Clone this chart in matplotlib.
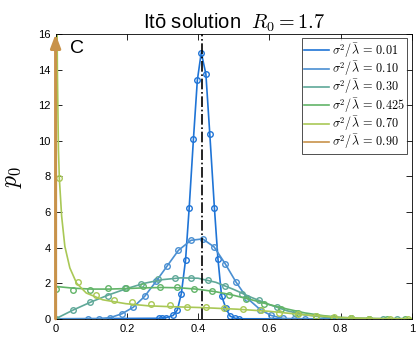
import numpy as np
import matplotlib
matplotlib.use('Agg')
import matplotlib.pyplot as plt

plt.rcParams['font.family'] = ['Liberation Sans', 'DejaVu Sans']
plt.rcParams['mathtext.fontset'] = 'cm'

R0 = 1.7
labels = ['0.01', '0.10', '0.30', '0.425', '0.70', '0.90']
colors = ['#1f74d6', '#4a8fd2', '#5fa898', '#62b468', '#a9c856', '#c8924a']

# sigma^2/lambda = 0.01 (line through points)
x01 = [0.29, 0.30, 0.31, 0.33, 0.342, 0.353, 0.365, 0.375, 0.387, 0.398, 0.409,
       0.422, 0.433, 0.446, 0.456, 0.466, 0.478, 0.49, 0.504, 0.515]
y01 = [0.03, 0.05, 0.06, 0.19, 0.5, 1.41, 3.32, 6.2, 10.08, 13.4, 14.96,
       13.75, 10.38, 6.21, 3.34, 1.3, 0.6, 0.15, 0.03, 0.0]

# 0.10
x10 = [0.09, 0.123, 0.154, 0.186, 0.218, 0.25, 0.282, 0.313, 0.345, 0.38, 0.413,
       0.445, 0.476, 0.507, 0.538, 0.575, 0.605, 0.638, 0.67, 0.70, 0.76]
y10 = [0.0, 0.0, 0.07, 0.28, 0.65, 1.26, 2.1, 2.96, 3.85, 4.41, 4.49,
       4.04, 3.1, 2.05, 1.16, 0.51, 0.19, 0.02, 0.0, 0.0, 0.0]

# 0.30 theory and simulation
xt30 = [0, 0.05, 0.1, 0.15, 0.2, 0.25, 0.3, 0.35, 0.4, 0.45, 0.5, 0.55, 0.6,
        0.65, 0.7, 0.75, 0.8, 0.85, 0.9, 1.0]
yt30 = [0, 0.5, 0.95, 1.35, 1.7, 2.0, 2.2, 2.3, 2.28, 2.05, 1.65, 1.2, 0.8,
        0.45, 0.22, 0.1, 0.04, 0.01, 0, 0]
xs30 = [0, 0.049, 0.097, 0.146, 0.195, 0.241, 0.287, 0.335, 0.381, 0.429, 0.477,
        0.524, 0.572, 0.621, 0.673, 0.73, 0.78, 0.83, 0.88, 0.92, 0.96]
ys30 = [0, 0.51, 0.94, 1.3, 1.73, 1.95, 2.24, 2.29, 2.29, 2.16, 1.86,
        1.41, 1.03, 0.64, 0.32, 0.12, 0.05, 0.02, 0, 0, 0]

# 0.425
xt425 = [0, 0.05, 0.1, 0.15, 0.2, 0.25, 0.3, 0.35, 0.4, 0.45, 0.5, 0.55, 0.6,
         0.65, 0.7, 0.75, 0.8, 0.85, 0.9, 1.0]
yt425 = [1.82, 1.72, 1.67, 1.67, 1.7, 1.74, 1.76, 1.74, 1.66, 1.52, 1.32, 1.07,
         0.8, 0.55, 0.33, 0.18, 0.08, 0.03, 0.01, 0]
xs425 = [0.0, 0.05, 0.097, 0.148, 0.198, 0.245, 0.294, 0.342, 0.39, 0.439, 0.487,
         0.536, 0.584, 0.633, 0.682, 0.73, 0.78, 0.83, 0.88, 0.93, 0.98]
ys425 = [1.67, 1.6, 1.63, 1.73, 1.73, 1.82, 1.76, 1.78, 1.67, 1.54, 1.35,
         1.11, 0.85, 0.55, 0.3, 0.15, 0.06, 0.02, 0, 0, 0]

# 0.70
xt70 = [0.003, 0.005, 0.008, 0.0105, 0.017, 0.026, 0.04, 0.059, 0.086, 0.132,
        0.197, 0.26, 0.31, 0.41, 0.51, 0.6, 0.7, 0.8, 0.9, 1.0]
yt70 = [20, 14, 9.5, 7.9, 5.76, 4.07, 2.86, 2.0, 1.45, 1.07,
        0.85, 0.73, 0.69, 0.63, 0.54, 0.42, 0.22, 0.07, 0.01, 0]
xs70 = [0.0105, 0.062, 0.114, 0.165, 0.215, 0.269, 0.32, 0.37, 0.423, 0.474,
        0.526, 0.577, 0.626, 0.681, 0.732, 0.782, 0.83, 0.88, 0.94, 0.99]
ys70 = [7.9, 2.07, 1.35, 1.03, 0.92, 0.85, 0.75, 0.69, 0.66, 0.58,
        0.54, 0.47, 0.32, 0.26, 0.17, 0.1, 0.03, 0.01, 0, 0]

fig = plt.figure(figsize=(4.18, 3.37), dpi=100)
ax = fig.add_axes([0.133, 0.054, 0.852, 0.845])

mk = dict(marker='o', ms=4, mfc='none', mew=1.0, ls='none')
lw = 1.2

def lab(v):
    return r'$\sigma^2/\bar{\lambda}\, =\, ' + v + '$'

ax.plot([0] + x01 + [1], [0] + y01 + [0], color=colors[0], lw=lw, label=lab(labels[0]))
ax.plot(x01, y01, color=colors[0], **mk)
ax.plot([0] + x10 + [1], [0] + y10 + [0], color=colors[1], lw=lw, label=lab(labels[1]))
ax.plot(x10, y10, color=colors[1], **mk)
ax.plot(xt30, yt30, color=colors[2], lw=lw, label=lab(labels[2]))
ax.plot(xs30, ys30, color=colors[2], **mk)
ax.plot(xt425, yt425, color=colors[3], lw=lw, label=lab(labels[3]))
ax.plot(xs425, ys425, color=colors[3], **mk)
ax.plot(xt70, yt70, color=colors[4], lw=lw, label=lab(labels[4]))
ax.plot(xs70, ys70, color=colors[4], **mk)
ax.plot([], [], color=colors[5], lw=lw, label=lab(labels[5]))

# delta at zero for 0.90
ax.annotate('', xy=(0, 16), xytext=(0, 0),
            arrowprops=dict(arrowstyle='-|>,head_width=0.3,head_length=0.8',
                            color=colors[5], lw=2.2, shrinkA=0, shrinkB=0),
            annotation_clip=False, zorder=5)

ax.axvline(1 - 1 / R0, color='black', ls='-.', lw=1.2)

ax.set_xlim(0, 1)
ax.set_ylim(0, 16)
ax.set_xticks([0, 0.2, 0.4, 0.6, 0.8, 1])
ax.set_xticklabels(['0', '0.2', '0.4', '0.6', '0.8', '1'])
ax.set_yticks(range(0, 17, 2))
ax.tick_params(direction='in', top=True, right=True, labelsize=8, length=4, width=0.6)
for s in ax.spines.values():
    s.set_linewidth(0.6)

ax.set_title(r'Itō solution  $R_0 = 1.7$', fontsize=14.5, pad=4)
ax.set_ylabel(r'$p_0$', fontsize=17, labelpad=10)
ax.text(0.04, 15.2, 'C', fontsize=14, va='center')

leg = ax.legend(loc='upper right', fontsize=8.8, frameon=True, fancybox=False,
                edgecolor='black', handlelength=2.0, borderpad=0.2,
                labelspacing=-0.05, handletextpad=0.3, borderaxespad=0.35)
leg.get_frame().set_linewidth(0.6)

fig.savefig('out.png', dpi=100)
